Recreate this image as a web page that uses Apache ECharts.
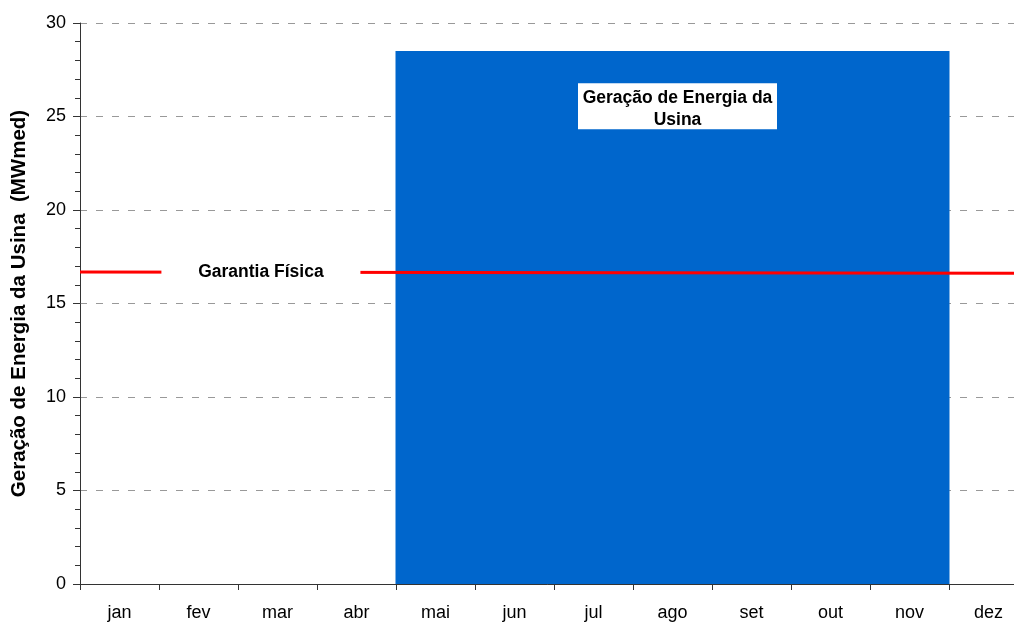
<!DOCTYPE html>
<html>
<head>
<meta charset="utf-8">
<script src="https://cdn.jsdelivr.net/npm/echarts@6/dist/echarts.min.js"></script>
<style>html,body{margin:0;padding:0;background:#fff;}#c{width:1014px;height:624px;}</style>
</head>
<body>
<div id="c"></div>
<script>
const months = ['jan','fev','mar','abr','mai','jun','jul','ago','set','out','nov','dez'];
const geracao = [null, null, null, null, 28.5, 28.5, 28.5, 28.5, 28.5, 28.5, 28.5, null];
const garantiaX = [0, 12];
const garantiaY = [16.68, 16.62];
const yTicks = [0, 5, 10, 15, 20, 25, 30];
const yTitle = 'Geração de Energia da Usina  (MWmed)';
const labelGarantia = 'Garantia Física';
const labelGeracao = 'Geração de Energia da\nUsina';

const font = 'Liberation Sans, Arial, sans-serif';
const chart = echarts.init(document.getElementById('c'), null, {renderer: 'canvas'});
chart.setOption({
  animation: false,
  backgroundColor: '#fff',
  grid: {left: 80, top: 23, height: 561, width: 948, containLabel: false, outerBoundsMode: 'none'},
  xAxis: [{
    type: 'category', data: months,
    axisLine: {lineStyle: {color: '#333', width: 1}},
    axisTick: {show: true, length: 6, lineStyle: {color: '#333'}},
    axisLabel: {color: '#000', fontSize: 18, fontFamily: font, margin: 20},
    splitLine: {show: false}
  }, {
    type: 'value', min: 0, max: 12, show: false
  }],
  yAxis: {
    type: 'value', min: yTicks[0], max: yTicks[yTicks.length - 1], interval: 5,
    name: yTitle, nameLocation: 'middle', nameGap: 50,
    nameTextStyle: {color: '#000', fontSize: 20.5, fontWeight: 'bold', fontFamily: font},
    axisLine: {show: true, lineStyle: {color: '#333', width: 1}},
    axisTick: {show: true, inside: false, length: 7, lineStyle: {color: '#333'}},
    minorTick: {show: true, splitNumber: 5, length: 5, lineStyle: {color: '#333'}},
    axisLabel: {color: '#000', fontSize: 18, fontFamily: font, margin: 14},
    splitLine: {show: true, lineStyle: {color: '#999', type: [7, 9], width: 1}}
  },
  series: [{
    type: 'bar', data: geracao, xAxisIndex: 0,
    barWidth: 80, barGap: 0,
    itemStyle: {color: '#0066CC'},
    z: 2,
    markPoint: {
      symbol: 'rect', symbolSize: [199, 46], symbolOffset: [5, 0],
      itemStyle: {color: '#fff'},
      label: {show: true, formatter: labelGeracao, color: '#000', fontSize: 17.5, fontWeight: 'bold', fontFamily: font, lineHeight: 22, align: 'center', offset: [0, 3]},
      data: [{coord: ['ago', 25.55]}],
      z: 5
    }
  }, {
    type: 'line', xAxisIndex: 1,
    data: garantiaX.map((x, i) => [x, garantiaY[i]]),
    symbol: 'none',
    lineStyle: {color: '#FF0000', width: 3},
    z: 3,
    markPoint: {
      symbol: 'rect', symbolSize: [199, 24],
      itemStyle: {color: '#fff'},
      label: {show: true, formatter: labelGarantia, color: '#000', fontSize: 17.5, fontWeight: 'bold', fontFamily: font},
      data: [{coord: [2.29, 16.67]}],
      z: 5
    }
  }]
});
</script>
</body>
</html>
